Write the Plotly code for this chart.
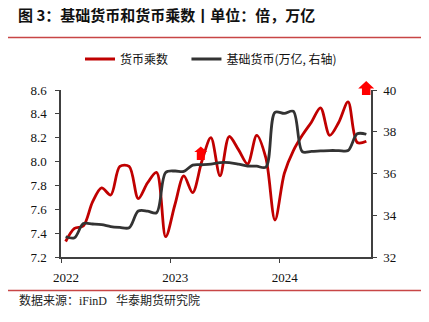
import pandas as pd
import plotly.graph_objects as go

# Monthly observations, Jan 2022 - Oct 2024
months = pd.date_range("2022-01-01", "2024-10-01", freq="MS")

# Money multiplier (times), left axis
multiplier = [
    7.33, 7.44, 7.46, 7.66, 7.78, 7.72, 7.96, 7.96, 7.69, 7.82, 7.91, 7.37,
    7.64, 7.88, 7.74, 8.00, 8.20, 7.88, 8.21, 8.10, 7.98, 8.22, 8.03, 7.51,
    7.90, 8.09, 8.22, 8.33, 8.45, 8.22, 8.33, 8.50, 8.16, 8.17,
]

# Base money (trillion yuan), right axis
base_money = [
    32.97, 32.92, 33.60, 33.58, 33.55, 33.46, 33.42, 33.40, 34.20, 34.20, 34.12, 36.05,
    36.12, 36.10, 36.40, 36.42, 36.45, 36.52, 36.52, 36.45, 36.36, 36.35, 36.30, 38.93,
    38.88, 38.98, 37.05, 37.06, 37.08, 37.10, 37.10, 37.10, 37.90, 37.88,
]

year_ticks = ["2022", "2023", "2024"]

TITLE = "图 3：基础货币和货币乘数丨单位：倍，万亿"
SOURCE = "数据来源：iFinD\u00a0\u00a0\u00a0华泰期货研究院"
NAME_MULT = "货币乘数"
NAME_BASE = "基础货币(万亿, 右轴)"

W, H = 429, 322
M_L, M_R, M_T, M_B = 61, 58, 90, 65
PW, PH = W - M_L - M_R, H - M_T - M_B

CJK = "Noto Sans CJK SC"
SERIF = "Liberation Serif, " + CJK
RULE_COLOR = "rgb(200,70,70)"


def px_x(px):
    return (px - M_L) / PW


def px_y(py):
    return (H - M_B - py) / PH


def up_arrow(cx, top, width, head_h, total_h, shaft_w):
    """Block arrow pointing up, given in pixel units, returned as a paper path."""
    hw, sw = width / 2, shaft_w / 2
    pts = [
        (cx, top),
        (cx + hw, top + head_h),
        (cx + sw, top + head_h),
        (cx + sw, top + total_h),
        (cx - sw, top + total_h),
        (cx - sw, top + head_h),
        (cx - hw, top + head_h),
    ]
    d = "M " + " L ".join(f"{px_x(x):.5f},{px_y(y):.5f}" for x, y in pts) + " Z"
    return dict(type="path", path=d, xref="paper", yref="paper",
                fillcolor="#FF0000", line=dict(width=0))


def rule(py):
    """Thin horizontal rule across the page at pixel height py."""
    return dict(type="line", xref="paper", yref="paper",
                x0=round(px_x(8), 4), x1=round(px_x(421), 4),
                y0=round(px_y(py), 4), y1=round(px_y(py), 4),
                line=dict(color=RULE_COLOR, width=1.3))


def rule_bar(py):
    """The same rule drawn as a 1px filled annotation box."""
    return dict(text="\u00a0", xref="paper", yref="paper",
                x=px_x(8), xanchor="left", y=px_y(py), yanchor="middle",
                width=413, height=1, borderpad=0, borderwidth=0,
                bgcolor=RULE_COLOR, showarrow=False, font=dict(size=1))


fig = go.Figure()

fig.add_trace(go.Scatter(
    x=months, y=multiplier, name=NAME_MULT + "\u00a0" * 5,
    xperiod="M1", xperiodalignment="middle",
    mode="lines", line=dict(color="#C00000", width=2.8, shape="spline", smoothing=0.9),
))
fig.add_trace(go.Scatter(
    x=months, y=base_money, name=NAME_BASE, yaxis="y2",
    xperiod="M1", xperiodalignment="middle",
    mode="lines", line=dict(color="#333333", width=2.8, shape="spline", smoothing=0.9),
))

axis_common = dict(
    showgrid=False, zeroline=False, showline=True, linecolor="#404040", linewidth=1.5,
    ticks="outside", ticklen=4, tickwidth=1.3, tickcolor="#404040",
    tickfont=dict(family=SERIF, size=13, color="#111111"),
)

fig.update_layout(
    width=W, height=H,
    margin=dict(l=M_L, r=M_R, t=M_T, b=M_B),
    paper_bgcolor="white", plot_bgcolor="white",
    font=dict(family=CJK, color="#111111"),
    title=dict(
        text=TITLE, xref="container", yref="container",
        x=18 / W, xanchor="left", y=1 - 16 / H, yanchor="middle",
        font=dict(family=CJK, size=15, color="#111111", weight="bold"),
    ),
    legend=dict(
        orientation="h", xref="paper", yref="paper",
        x=px_x(80), xanchor="left", y=px_y(59), yanchor="middle",
        font=dict(family=CJK, size=12, color="#111111"),
        bgcolor="rgba(0,0,0,0)", itemwidth=30,
    ),
    xaxis=dict(
        axis_common,
        type="date", range=["2022-01-01", "2024-11-01"],
        tickmode="array", tickvals=[f"{y}-01-01" for y in year_ticks], ticktext=year_ticks,
        ticklabelshift=5, ticklabelstandoff=4,
    ),
    yaxis=dict(
        axis_common,
        range=[7.2, 8.6], dtick=0.2, tickformat=".1f", ticklabelstandoff=6,
    ),
    yaxis2=dict(
        axis_common,
        overlaying="y", side="right", range=[32, 40], dtick=2, ticklabelstandoff=4,
    ),
    showlegend=True,
    annotations=[
        dict(
            text=SOURCE, xref="paper", yref="paper",
            x=px_x(17), xanchor="left", y=px_y(300), yanchor="middle",
            showarrow=False, font=dict(family=SERIF, size=12, color="#222222"),
        ),
        rule_bar(37.5),
        rule_bar(290.5),
    ],
)

fig.add_shape(up_arrow(200.8, 146.5, 13, 5.5, 13.5, 8))
fig.add_shape(up_arrow(366.2, 81, 16, 7.5, 14, 8.5))
fig.add_shape(rule(37.5))
fig.add_shape(rule(290.5))

fig.write_html("out.html")
